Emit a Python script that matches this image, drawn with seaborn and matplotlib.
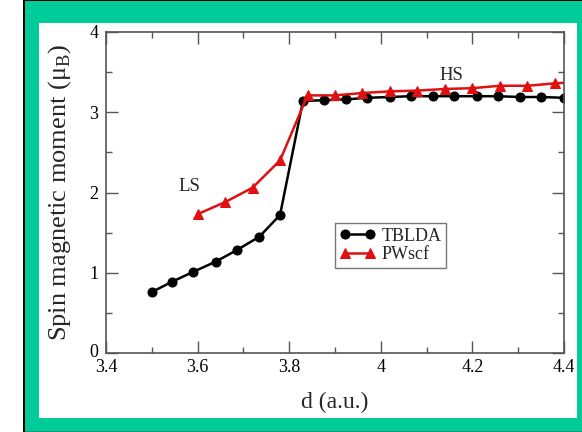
import matplotlib
matplotlib.use("Agg")
import matplotlib.pyplot as plt
from matplotlib.patches import Rectangle
from matplotlib.ticker import MultipleLocator
from matplotlib.transforms import ScaledTranslation
import seaborn as sns
import pandas as pd

# Interatomic distance d (a.u.) and spin moment (mu_B)
d_tblda = [3.50, 3.545, 3.59, 3.64, 3.685, 3.735, 3.78, 3.83, 3.875, 3.925,
           3.97, 4.02, 4.065, 4.115, 4.16, 4.21, 4.255, 4.305, 4.35, 4.40]
m_tblda = [0.76, 0.89, 1.01, 1.14, 1.28, 1.45, 1.72, 3.14, 3.15, 3.16,
           3.18, 3.19, 3.20, 3.20, 3.20, 3.20, 3.20, 3.19, 3.19, 3.18]

d_pwscf = [3.60, 3.66, 3.72, 3.78, 3.84, 3.90, 3.96, 4.02, 4.08, 4.14,
           4.20, 4.26, 4.32, 4.38, 4.44]
m_pwscf = [1.73, 1.88, 2.06, 2.40, 3.21, 3.21, 3.24, 3.26, 3.27, 3.29,
           3.30, 3.33, 3.33, 3.36, 3.38]

series_names = ["TBLDA", "PWscf"]
state_labels = ["LS", "HS"]
state_pos = [(3.583, 2.07), (4.155, 3.46)]

sns.set_theme(style="ticks")
plt.rcParams["font.family"] = ["Liberation Serif", "DejaVu Serif"]
plt.rcParams["mathtext.fontset"] = "custom"
plt.rcParams["mathtext.rm"] = "Liberation Serif"

TEAL = "#00CC99"
RED = "#E01010"
GREY = "#555555"

W, H = 582, 432
fig = plt.figure(figsize=(W / 100, H / 100), dpi=100, facecolor="white")

# Framed backdrop: black left rule, teal border and white panel
def px_rect(x0, y0, x1, y1, color, z):
    fig.patches.append(Rectangle((x0 / W, 1 - y1 / H), (x1 - x0) / W, (y1 - y0) / H,
                                 transform=fig.transFigure, facecolor=color,
                                 edgecolor="none", zorder=z))

px_rect(22.7, 0, W, H, "black", -5)
px_rect(25, 1, W, 431, TEAL, -4)
px_rect(25, 431, W, H, "#0A9A74", -4)
px_rect(39, 23, 577, 418, "white", -3)

ax = fig.add_axes([106 / W, 1 - 353 / H, (564 - 106) / W, (353 - 32) / H])
ax.set_facecolor("white")

df_t = pd.DataFrame({"d": d_tblda, "m": m_tblda})
df_p = pd.DataFrame({"d": d_pwscf, "m": m_pwscf})

sns.lineplot(data=df_t, x="d", y="m", ax=ax, color="black", lw=1.8,
             marker="o", markersize=6.5, markeredgecolor="black",
             label=series_names[0], sort=False)
sns.lineplot(data=df_p, x="d", y="m", ax=ax, color=RED, lw=1.8,
             marker="^", markersize=7, markeredgecolor=RED,
             label=series_names[1], sort=False)

ax.set_xlim(3.4, 4.4)
ax.set_ylim(0, 4)
ax.xaxis.set_minor_locator(MultipleLocator(0.1))
ax.yaxis.set_minor_locator(MultipleLocator(0.5))
ax.set_xticks([3.4, 3.6, 3.8, 4.0, 4.2, 4.4])
ax.set_xticklabels(["3.4", "3.6", "3.8", "4", "4.2", "4.4"])
ax.set_yticks([0, 1, 2, 3, 4])
ax.set_yticklabels(["0", "1", "2", "3", "4"])

ax.tick_params(which="both", direction="in", top=True, right=True,
               color=GREY, width=1.0, labelsize=13, labelcolor="black")
ax.tick_params(which="major", length=8.6)
ax.tick_params(which="minor", length=4.3)
ax.tick_params(axis="x", pad=4.5)
ax.tick_params(axis="y", pad=5.5)
for s in ax.spines.values():
    s.set_color(GREY)
    s.set_linewidth(1.2)

# lift the "0" so it sits clear of the "3.4" below it
zero_lbl = ax.get_yticklabels()[0]
zero_lbl.set_transform(zero_lbl.get_transform() +
                       ScaledTranslation(0, 2 / 72, fig.dpi_scale_trans))

ax.set_xlabel("d (a.u.)", fontsize=17, labelpad=11)
ax.set_ylabel("Spin magnetic moment (μ$_\\mathrm{B}$)", fontsize=19, labelpad=12)

for txt, (x, y) in zip(state_labels, state_pos):
    ax.text(x, y, txt, fontsize=13.5, ha="center", va="center")

leg = ax.legend(loc="upper left", bbox_to_anchor=((335 - 106) / 458, (353 - 223) / 321),
                numpoints=2, fontsize=13, frameon=True, fancybox=False,
                handlelength=2.0, handletextpad=0.35, borderpad=0.25,
                labelspacing=0.1, borderaxespad=0)
leg.get_frame().set_edgecolor(GREY)
leg.get_frame().set_linewidth(1.0)

fig.savefig("out.png", dpi=100, facecolor=fig.get_facecolor())
